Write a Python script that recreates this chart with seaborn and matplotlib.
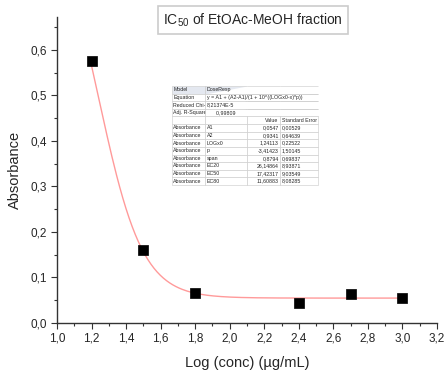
import numpy as np
import pandas as pd
import matplotlib
matplotlib.use("Agg")
import matplotlib.pyplot as plt
from matplotlib.ticker import FuncFormatter, MultipleLocator
import seaborn as sns

# ---- data ----
log_conc = [1.2, 1.5, 1.8, 2.4, 2.7, 3.0]
absorbance = [0.575, 0.160, 0.065, 0.045, 0.063, 0.054]

# DoseResp fit parameters (from the inset table)
A1 = 0.0547
A2 = 0.9341
LOGx0 = 1.24113
p = -3.41423

table_rows = [
    ["Model", "DoseResp", "", ""],
    ["Equation", "y = A1 + (A2-A1)/(1 + 10^((LOGx0-x)*p))", "", ""],
    ["Reduced Chi-Sqr", "8,21374E-5", "", ""],
    ["Adj. R-Square", "      0,99809", "", ""],
    ["", "", "Value", "Standard Error"],
    ["Absorbance", "A1", "0,0547", "0,00529"],
    ["Absorbance", "A2", "0,9341", "0,64639"],
    ["Absorbance", "LOGx0", "1,24113", "0,22522"],
    ["Absorbance", "p", "-3,41423", "1,50145"],
    ["Absorbance", "span", "0,8794", "0,69837"],
    ["Absorbance", "EC20", "26,14864", "8,93871"],
    ["Absorbance", "EC50", "17,42317", "9,03549"],
    ["Absorbance", "EC80", "11,60883", "8,08285"],
]

title = "IC$_{\\mathregular{50}}$ of EtOAc-MeOH fraction"
xlabel = "Log (conc) (µg/mL)"
ylabel = "Absorbance"

# ---- figure ----
sns.set_style("ticks")
plt.rcParams["font.family"] = ["Liberation Sans", "DejaVu Sans"]
plt.rcParams["mathtext.fontset"] = "custom"
plt.rcParams["mathtext.rm"] = "Liberation Sans"
plt.rcParams["mathtext.default"] = "regular"

W, H = 445, 371
fig = plt.figure(figsize=(W / 100, H / 100), dpi=100)
ax = fig.add_axes([57 / W, 1 - 323 / H, (437 - 57) / W, (323 - 17) / H])

xfit = np.linspace(min(log_conc), max(log_conc), 200)
yfit = A1 + (A2 - A1) / (1 + 10 ** ((LOGx0 - xfit) * p))
sns.lineplot(x=xfit, y=yfit, ax=ax, color="#ff9a9a", linewidth=1.0)
df = pd.DataFrame({"x": log_conc, "y": absorbance})
sns.scatterplot(data=df, x="x", y="y", ax=ax, marker="s", s=45,
                color="black", edgecolor="black", linewidth=0.5, zorder=5)

ax.set_xlim(1.0, 3.2)
ax.set_ylim(0.0, 0.672)
ax.xaxis.set_major_locator(MultipleLocator(0.2))
ax.xaxis.set_minor_locator(MultipleLocator(0.1))
ax.yaxis.set_major_locator(MultipleLocator(0.1))
ax.yaxis.set_minor_locator(MultipleLocator(0.05))
fmt = FuncFormatter(lambda v, pos: f"{v:.1f}".replace(".", ","))
ax.xaxis.set_major_formatter(fmt)
ax.yaxis.set_major_formatter(fmt)
ax.tick_params(axis="both", which="major", direction="out", length=4,
               width=0.8, labelsize=8.5, color="#333333", pad=3)
ax.tick_params(axis="both", which="minor", direction="out", length=2.5,
               width=0.8, color="#333333")
for s in ["top", "right"]:
    ax.spines[s].set_visible(False)
for s in ["left", "bottom"]:
    ax.spines[s].set_linewidth(1.0)
    ax.spines[s].set_color("#333333")

ax.set_xlabel(xlabel, fontsize=10.5, labelpad=8)
ax.set_ylabel(ylabel, fontsize=10.5, labelpad=6)

# title box
fig.text(253 / W, 1 - 20 / H, title, ha="center", va="center", fontsize=10,
         bbox=dict(boxstyle="square,pad=0.4", facecolor="white",
                   edgecolor="#cccccc", linewidth=1.2))

# inset table
tab_ax = fig.add_axes([172 / W, 1 - 185 / H, (318 - 172) / W, (185 - 86) / H])
tab_ax.axis("off")
tbl = tab_ax.table(cellText=table_rows, colWidths=[33, 42, 33, 38],
                   bbox=[0, 0, 1, 1], cellLoc="left")
tbl.auto_set_font_size(False)
tbl.set_fontsize(3.8)
for (r, c), cell in tbl.get_celld().items():
    cell.set_edgecolor("#c8c8c8")
    cell.set_linewidth(0.4)
    cell.PAD = 0.04
    if r < 4:
        if c == 1:
            cell.visible_edges = "TBL"
        elif c > 1:
            cell.visible_edges = "TB"
    if r == 0:
        cell.set_facecolor("#e4e8f0")
    if r >= 4 and c == 2:
        cell._loc = "right"
        cell.get_text().set_horizontalalignment("right")

fig.savefig("out.png", dpi=100)
